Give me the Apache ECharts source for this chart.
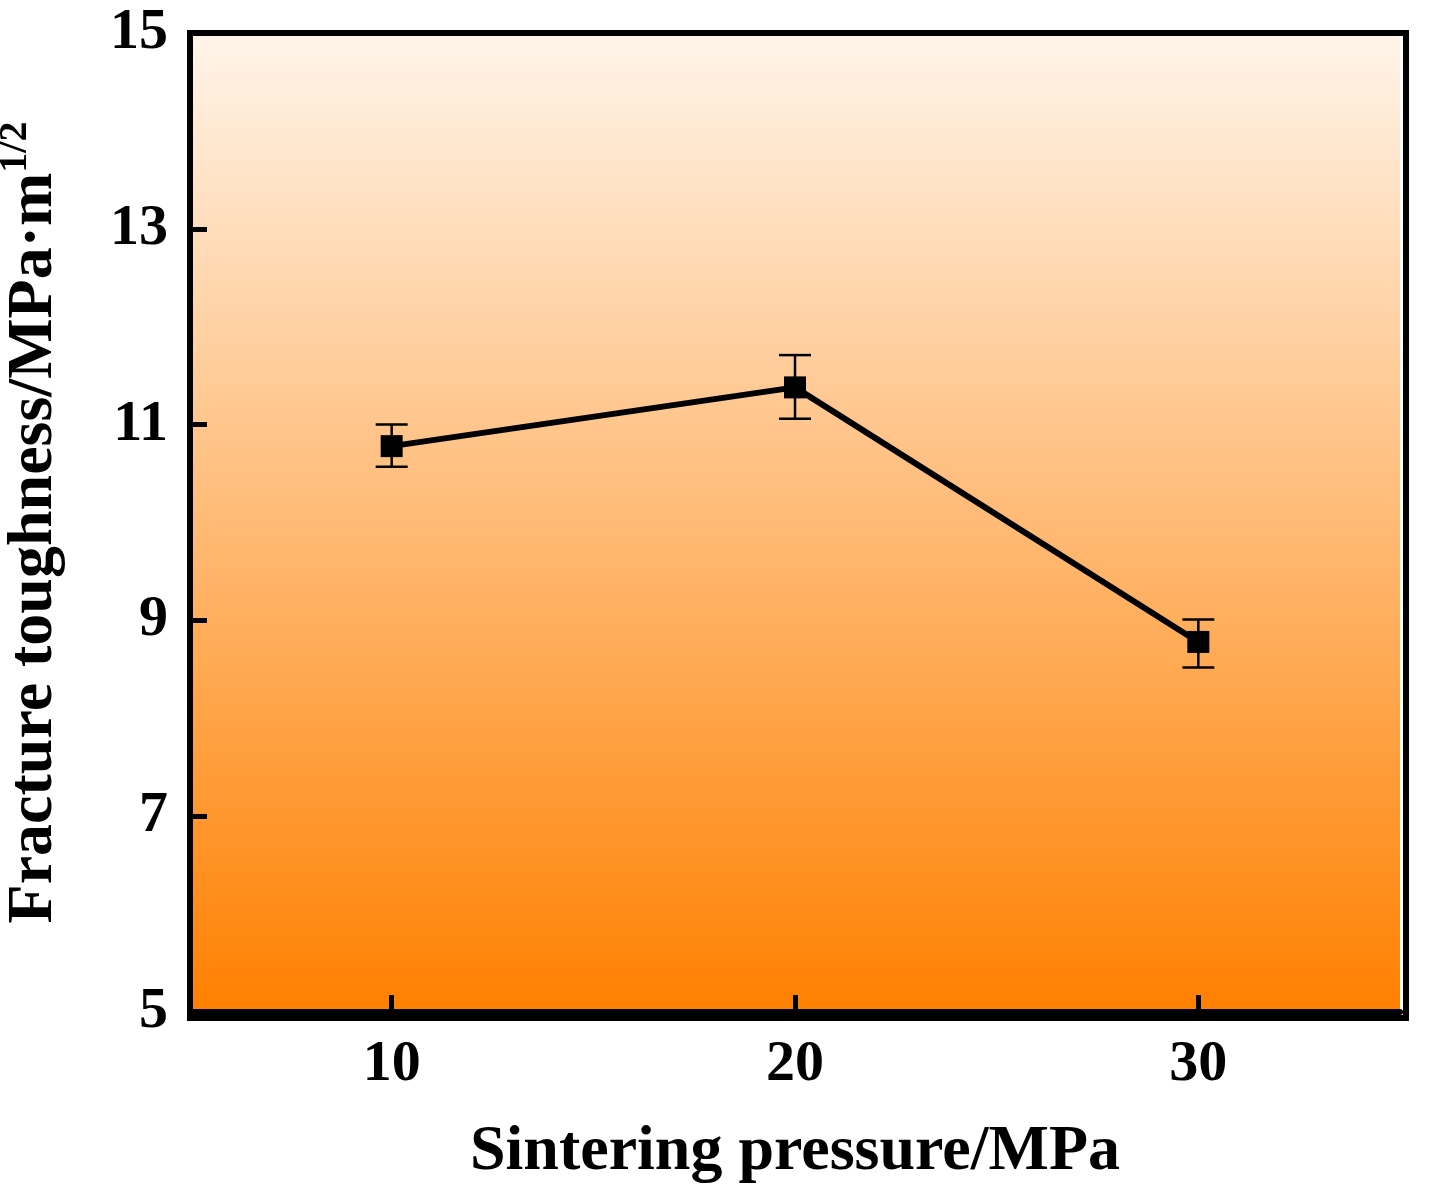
<!DOCTYPE html><html><head><meta charset="utf-8">
<script src="https://cdn.jsdelivr.net/npm/echarts@6/dist/echarts.min.js"></script>
<style>html,body{margin:0;background:#fff}#c{width:1431px;height:1195px}</style></head><body><div id="c"></div>
<script>
const pressure=[10,20,30];
const toughness=[10.78,11.38,8.78];
const errLow=[10.57,11.06,8.52];
const errHigh=[11.0,11.71,9.01];
const xTicks=[10,20,30];
const F='"Liberation Serif", "Times New Roman", serif';
const chart=echarts.init(document.getElementById('c'));
chart.setOption({
 animation:false,
 grid:{left:190,right:31,top:33,bottom:183,show:true,borderWidth:0,outerBoundsMode:'none',containLabel:false,
  backgroundColor:new echarts.graphic.LinearGradient(0,0,0,1,[{offset:0,color:'#fff4ea'},{offset:1,color:'#ff8000'}])},
 xAxis:{type:'value',min:5,max:35,interval:5,
  axisLine:{lineStyle:{color:'#000',width:6}},
  axisTick:{inside:true,length:17,lineStyle:{width:5,color:'#000'},customValues:xTicks},
  axisLabel:{customValues:xTicks,color:'#000',fontFamily:F,fontWeight:'bold',fontSize:58,margin:24},
  splitLine:{show:false},
  name:'Sintering pressure/MPa',nameLocation:'middle',nameGap:108,
  nameTextStyle:{color:'#000',fontFamily:F,fontWeight:'bold',fontSize:64}},
 yAxis:{type:'value',min:5,max:15,interval:2,
  axisLine:{show:true,lineStyle:{color:'#000',width:6}},
  axisTick:{show:true,inside:true,length:17,lineStyle:{width:5,color:'#000'}},
  axisLabel:{color:'#000',fontFamily:F,fontWeight:'bold',fontSize:58,margin:22},
  splitLine:{show:false},
  name:'{a|Fracture toughness/MPa·m}{s|1/2}',nameLocation:'middle',nameGap:118,
  nameTextStyle:{rich:{a:{color:'#000',fontFamily:F,fontWeight:'bold',fontSize:64},s:{color:'#000',fontFamily:F,fontWeight:'bold',fontSize:40,verticalAlign:'bottom',padding:[0,0,36,0]}}}},
 series:[
  {type:'line',data:pressure.map((p,i)=>[p,toughness[i]]),symbol:'rect',symbolSize:22,
   lineStyle:{color:'#000',width:6},itemStyle:{color:'#000'},z:3},
  {type:'custom',data:pressure.map((p,i)=>[p,errLow[i],errHigh[i]]),z:4,
   renderItem:(params,api)=>{
     const lo=api.coord([api.value(0),api.value(1)]),hi=api.coord([api.value(0),api.value(2)]);
     const w=16,st={stroke:'#000',lineWidth:2.5};
     return {type:'group',children:[
      {type:'line',shape:{x1:hi[0],y1:hi[1],x2:lo[0],y2:lo[1]},style:st},
      {type:'line',shape:{x1:hi[0]-w,y1:hi[1],x2:hi[0]+w,y2:hi[1]},style:st},
      {type:'line',shape:{x1:lo[0]-w,y1:lo[1],x2:lo[0]+w,y2:lo[1]},style:st}]};
   }}
 ],
 graphic:[{type:'rect',left:187,top:30,shape:{width:1216,height:985},style:{fill:'none',stroke:'#000',lineWidth:6},z:10}]
});
</script></body></html>
